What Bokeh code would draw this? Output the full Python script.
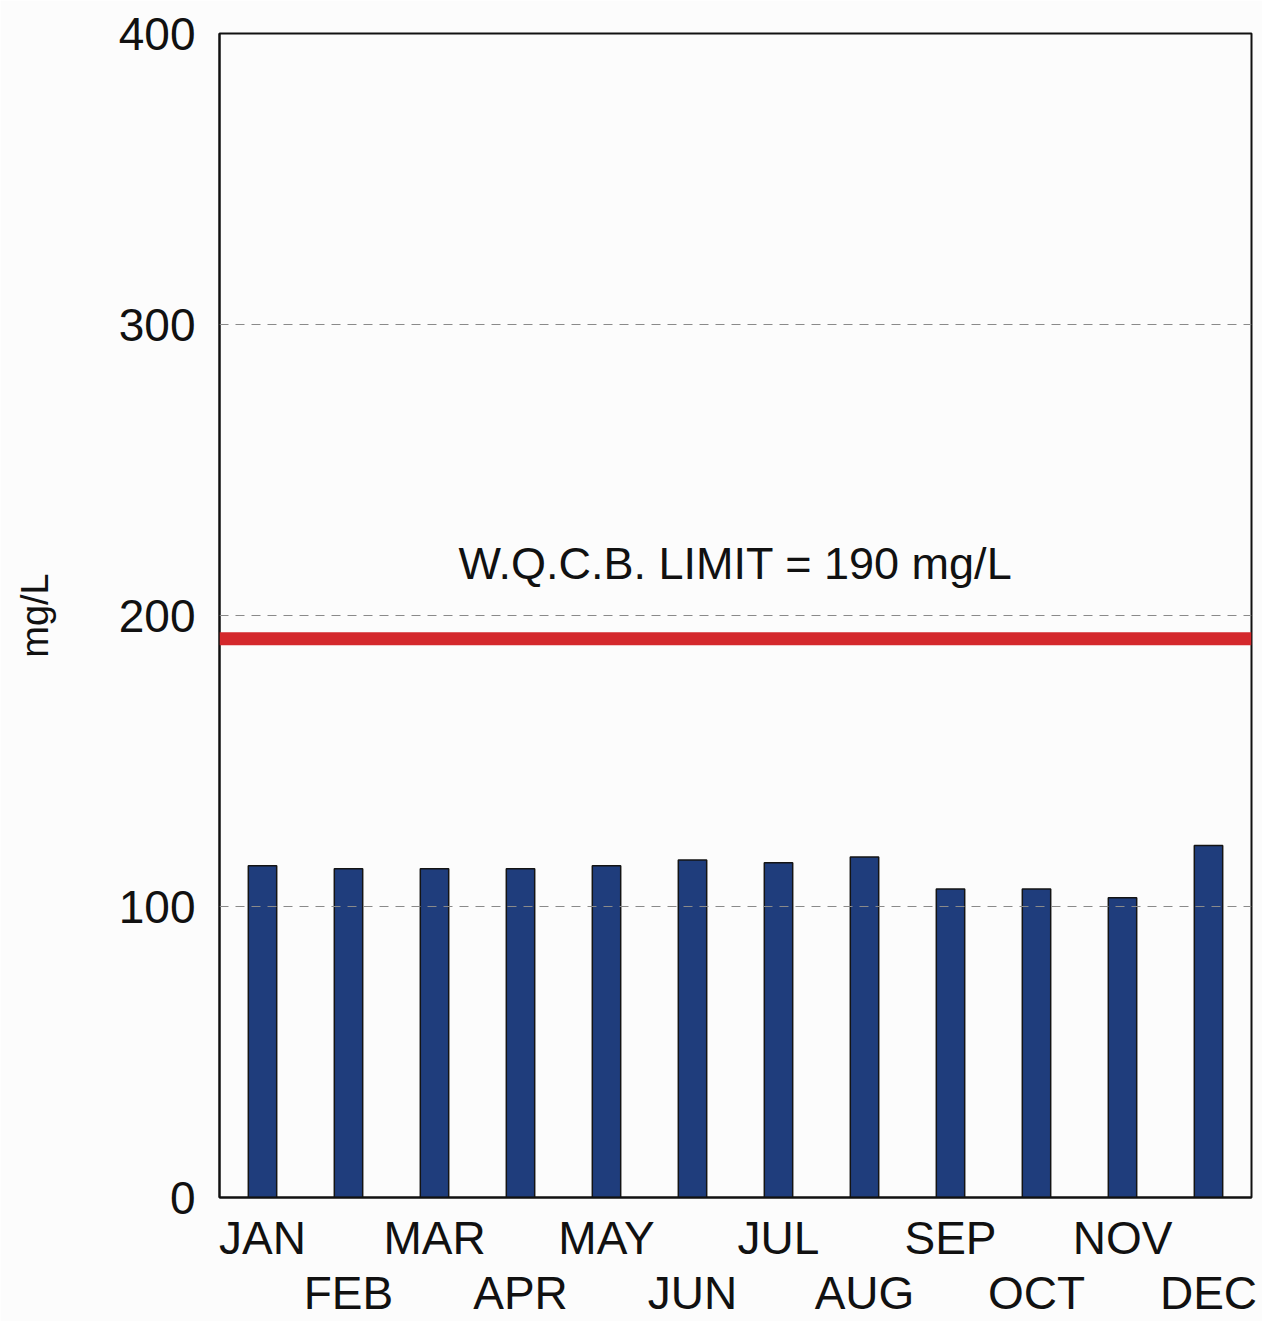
from bokeh.plotting import figure
from bokeh.models import Span, Label, LinearAxis, FixedTicker, ColumnDataSource, Range1d
from bokeh.embed import file_html
from bokeh.resources import INLINE

months = ["JAN", "FEB", "MAR", "APR", "MAY", "JUN", "JUL", "AUG", "SEP", "OCT", "NOV", "DEC"]
values = [114, 113, 113, 113, 114, 116, 115, 117, 106, 106, 103, 121]
limit_drawn = 192
limit_text = "W.Q.C.B. LIMIT = 190 mg/L"
y_ticks = [0, 100, 200, 300, 400]
grid_levels = [100, 200, 300]

FONT = "Liberation Sans"

# each month occupies one unit slot; its centre is at index + 0.5
centres = [i + 0.5 for i in range(len(months))]

p = figure(x_range=Range1d(0, len(months)), y_range=(0, 400), width=1262, height=1321,
           output_backend="svg", toolbar_location=None,
           min_border_left=219, min_border_right=11, min_border_top=33, min_border_bottom=122,
           background_fill_color="#fcfcfc", border_fill_color="#fcfcfc")

p.outline_line_color = "#111111"
p.outline_line_width = 2
p.xgrid.grid_line_color = None
p.ygrid.grid_line_color = None
p.xaxis.visible = False

for g in grid_levels:
    p.add_layout(Span(location=g, dimension="width", line_color="#8a8a8a",
                      line_width=1, line_dash="9 7"))

src = ColumnDataSource(dict(x=centres, m=months, v=values))
p.vbar(x="x", top="v", width=0.33, source=src, fill_color="#1f3d7c",
       line_color="#141414", line_width=1.5)

p.add_layout(Span(location=limit_drawn, dimension="width", line_color="#d4282c",
                  line_width=13))

p.add_layout(Label(x=6.0, y=218, text=limit_text, text_align="center",
                   text_baseline="middle", text_font=FONT, text_font_size="45px",
                   text_color="#111111"))

# y axis
p.yaxis.ticker = FixedTicker(ticks=y_ticks, minor_ticks=[])
p.yaxis.major_label_text_font = FONT
p.yaxis.major_label_text_font_size = "46px"
p.yaxis.major_label_text_color = "#111111"
p.yaxis.major_tick_out = 0
p.yaxis.major_tick_in = 0
p.yaxis.minor_tick_out = 0
p.yaxis.minor_tick_in = 0
p.yaxis.major_label_standoff = 24
p.yaxis.axis_line_color = "#111111"
p.yaxis.axis_line_width = 2
p.yaxis.axis_label = "mg/L"
p.yaxis.axis_label_text_font = FONT
p.yaxis.axis_label_text_font_size = "38px"
p.yaxis.axis_label_text_font_style = "normal"
p.yaxis.axis_label_text_color = "#111111"
p.yaxis.axis_label_standoff = 60

# x axes: odd months on first row, even months on second row
def month_axis(idx, standoff, line):
    ax = LinearAxis()
    ax.ticker = FixedTicker(ticks=[centres[i] for i in idx], minor_ticks=[])
    ax.major_label_overrides = {centres[i]: months[i] for i in idx}
    ax.major_label_text_font = FONT
    ax.major_label_text_font_size = "46px"
    ax.major_label_text_color = "#111111"
    ax.major_tick_out = 0
    ax.major_tick_in = 0
    ax.minor_tick_out = 0
    ax.minor_tick_in = 0
    ax.major_label_standoff = standoff
    if line:
        ax.axis_line_color = "#111111"
        ax.axis_line_width = 2
    else:
        ax.axis_line_color = None
    return ax

p.add_layout(month_axis(range(0, 12, 2), 14, True), "below")
p.add_layout(month_axis(range(1, 12, 2), 0, False), "below")

open("out.html", "w").write(file_html(p, INLINE))
